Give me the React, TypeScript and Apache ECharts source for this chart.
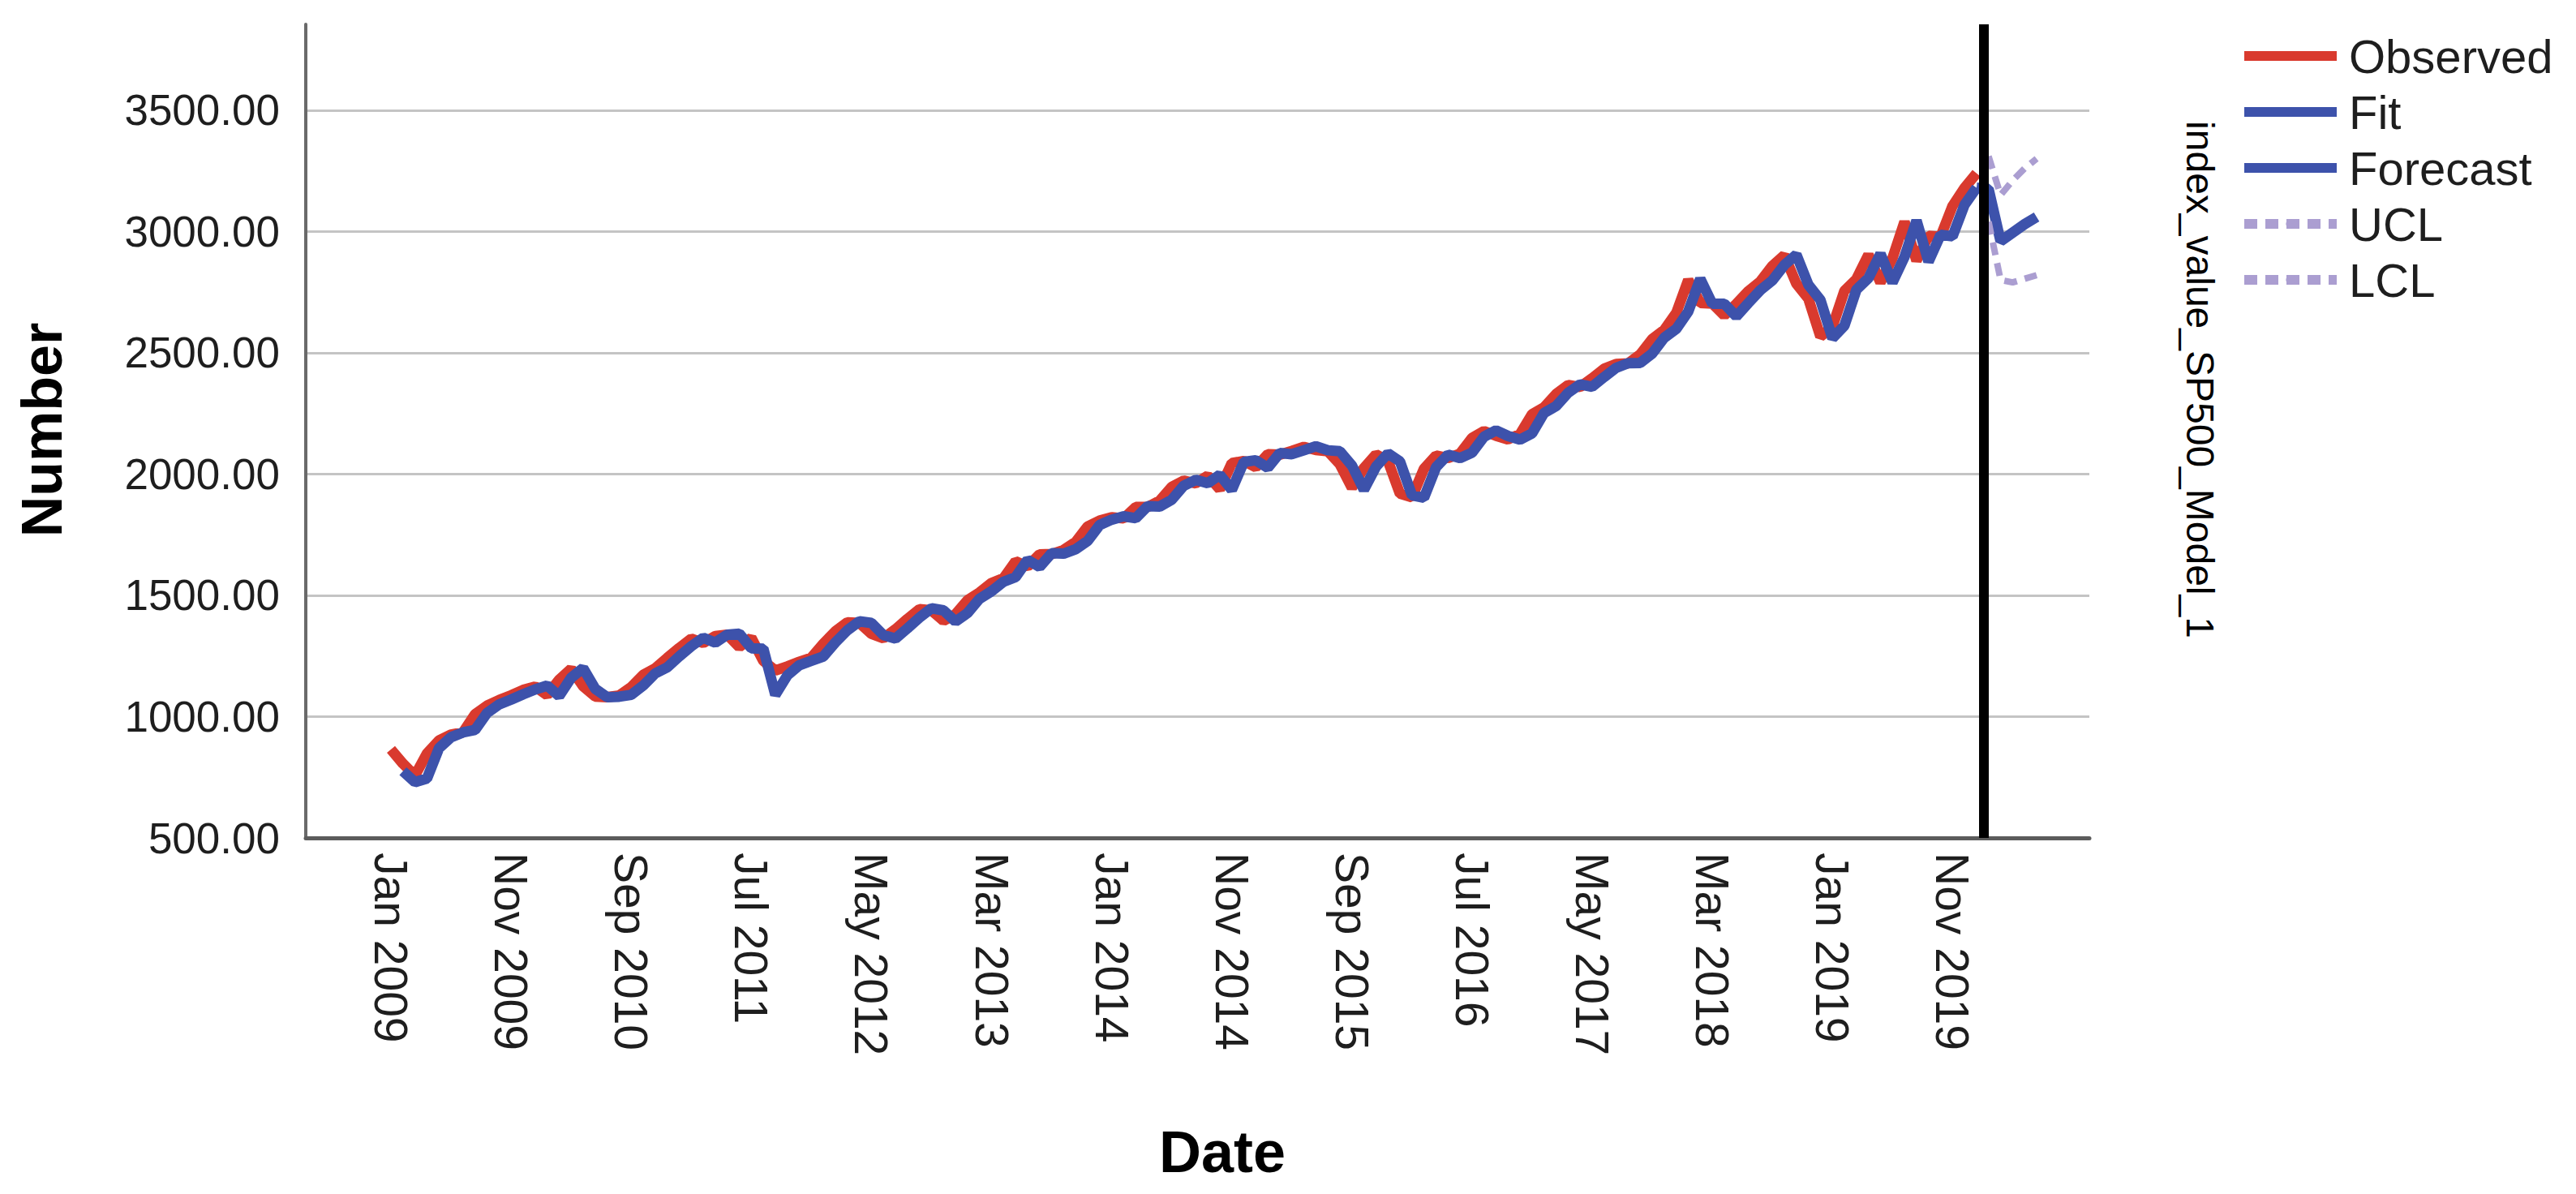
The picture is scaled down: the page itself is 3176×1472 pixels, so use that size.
import React, { useEffect, useRef } from "react";
import * as echarts from "echarts";

// ---- Data (monthly, index 0 = Jan 2009) ----
const tickPositions = [0, 10, 20, 30, 40, 50, 60, 70, 80, 90, 100, 110, 120, 130];
const tickLabels = [
  "Jan 2009", "Nov 2009", "Sep 2010", "Jul 2011", "May 2012", "Mar 2013", "Jan 2014",
  "Nov 2014", "Sep 2015", "Jul 2016", "May 2017", "Mar 2018", "Jan 2019", "Nov 2019",
];

const observedStart = 0;
const observedValues = [
  // 2009
  865, 806, 757, 848, 902, 926, 935, 1010, 1045, 1068, 1088, 1110,
  // 2010
  1124, 1089, 1152, 1197, 1125, 1083, 1080, 1087, 1122, 1172, 1199, 1242,
  // 2011
  1283, 1321, 1304, 1332, 1338, 1287, 1325, 1230, 1190, 1207, 1226, 1243,
  // 2012
  1301, 1352, 1389, 1386, 1341, 1323, 1360, 1403, 1443, 1438, 1395, 1422,
  // 2013
  1480, 1512, 1551, 1571, 1640, 1619, 1669, 1670, 1687, 1720, 1784, 1808,
  // 2014
  1822, 1817, 1864, 1864, 1890, 1947, 1973, 1962, 1993, 1937, 2045, 2054,
  // 2015
  2028, 2082, 2080, 2095, 2112, 2099, 2094, 2040, 1944, 2025, 2081, 2054,
  // 2016
  1919, 1904, 2022, 2076, 2066, 2084, 2149, 2177, 2158, 2143, 2165, 2247,
  // 2017
  2275, 2330, 2367, 2359, 2395, 2434, 2454, 2456, 2493, 2557, 2594, 2664,
  // 2018
  2800, 2705, 2703, 2654, 2701, 2754, 2794, 2858, 2902, 2785, 2723, 2567,
  // 2019
  2607, 2755, 2804, 2904, 2790, 2890, 3040, 2880, 2982, 2978, 3105, 3180,
  // 2020
  3240,
];

const fitStart = 1;
const fitValues = [
  775, 730, 745, 870, 915, 935, 945, 1015, 1050, 1070, 1092,
  1112, 1128, 1085, 1160, 1200, 1115, 1080, 1082, 1090, 1128, 1178, 1203,
  1248, 1290, 1325, 1305, 1338, 1342, 1282, 1280, 1090, 1170, 1212, 1230,
  1248, 1306, 1356, 1393, 1386, 1336, 1322, 1364, 1408, 1447, 1438, 1392,
  1427, 1486, 1517, 1556, 1575, 1646, 1617, 1674, 1672, 1690, 1724, 1790,
  1812, 1826, 1818, 1868, 1866, 1894, 1952, 1976, 1962, 1997, 1935, 2050,
  2057, 2026, 2087, 2082, 2098, 2115, 2098, 2094, 2035, 1935, 2030, 2085,
  2052, 1912, 1902, 2028, 2080, 2066, 2088, 2154, 2180, 2157, 2142, 2168,
  2252, 2280, 2335, 2370, 2360, 2400, 2438, 2457, 2458, 2497, 2562, 2598,
  2670, 2805, 2702, 2702, 2650, 2705, 2758, 2798, 2862, 2905, 2780, 2718,
  2560, 2612, 2760, 2808, 2908, 2790, 2895, 3045, 2876, 2986, 2980, 3110,
  3180,
];

const forecastStart = 132;
const forecastValues = [3180, 3175, 2960, 2995, 3030, 3060];

const boundsStart = 133;
const uclValues = [3310, 3150, 3210, 3260, 3300];
const lclValues = [3040, 2800, 2790, 2805, 2820];

const forecastOrigin = 132.6;

const yMin = 500;
const yMax = 3854;
const yStep = 500;
const xMin = -7.09;
const xMax = 141.39;

const FONT = "'Liberation Sans', Arial, Helvetica, sans-serif";
const RED = "#d93a2e";
const BLUE = "#3d52ab";
const LILAC = "#ab9ed1";

const toPairs = (start: number, vals: number[]) => vals.map((v, i) => [start + i, v]);

export default function App() {
  const ref = useRef<HTMLDivElement>(null);

  useEffect(() => {
    document.body.style.margin = "0";
    if (!ref.current) return;
    const chart = echarts.init(ref.current, undefined, { renderer: "svg" });

    const lineBase = {
      type: "line",
      symbol: "none",
      silent: true,
      emphasis: { disabled: true },
      smooth: false,
    };

    chart.setOption({
      animation: false,
      backgroundColor: "#ffffff",
      grid: { left: 377, right: 600, top: 30, bottom: 439, containLabel: false },
      xAxis: {
        type: "value",
        min: xMin,
        max: xMax,
        axisLine: { show: true, onZero: false, lineStyle: { color: "#5c5c5c", width: 5 } },
        axisTick: { show: false },
        splitLine: { show: false },
        axisLabel: {
          customValues: tickPositions,
          rotate: -90,
          margin: 18,
          fontSize: 57,
          fontFamily: FONT,
          color: "#1e1e1e",
          formatter: (v: number) => {
            const k = tickPositions.indexOf(Math.round(v));
            return k >= 0 ? tickLabels[k] : "";
          },
        },
      },
      yAxis: {
        type: "value",
        min: yMin,
        max: yMax,
        interval: yStep,
        axisLine: { show: true, onZero: false, lineStyle: { color: "#6a6a6a", width: 4 } },
        axisTick: { show: false },
        splitLine: {
          show: true,
          showMinLine: false,
          showMaxLine: false,
          lineStyle: { color: "#c4c4c4", width: 3 },
        },
        axisLabel: {
          showMaxLabel: false,
          margin: 32,
          fontSize: 53,
          fontFamily: FONT,
          color: "#1e1e1e",
          formatter: (v: number) => v.toFixed(2),
        },
      },
      legend: {
        orient: "vertical",
        left: 2761,
        top: 40,
        padding: 0,
        itemWidth: 114,
        itemHeight: 14,
        itemGap: 11,
        selectedMode: false,
        lineStyle: { width: 12 },
        textStyle: { fontSize: 58, fontFamily: FONT, color: "#1e1e1e", padding: [0, 0, 0, 10] },
        data: ["Observed", "Fit", "Forecast", "UCL", "LCL"],
      },
      series: [
        {
          ...lineBase,
          name: "Observed",
          data: toPairs(observedStart, observedValues),
          lineStyle: { color: RED, width: 13 },
          itemStyle: { color: RED },
          z: 2,
        },
        {
          ...lineBase,
          name: "Fit",
          data: toPairs(fitStart, fitValues),
          lineStyle: { color: BLUE, width: 13 },
          itemStyle: { color: BLUE },
          z: 3,
        },
        {
          ...lineBase,
          name: "Forecast",
          data: toPairs(forecastStart, forecastValues),
          lineStyle: { color: BLUE, width: 13 },
          itemStyle: { color: BLUE },
          z: 3,
        },
        {
          ...lineBase,
          name: "UCL",
          data: toPairs(boundsStart, uclValues),
          lineStyle: { color: LILAC, width: 8, type: [16, 10] },
          itemStyle: { color: LILAC },
          z: 2,
        },
        {
          ...lineBase,
          name: "LCL",
          data: toPairs(boundsStart, lclValues),
          lineStyle: { color: LILAC, width: 8, type: [16, 10] },
          itemStyle: { color: LILAC },
          z: 4,
          markLine: {
            silent: true,
            symbol: ["none", "none"],
            label: { show: false },
            lineStyle: { color: "#000000", width: 12, type: "solid" },
            data: [{ xAxis: forecastOrigin }],
          },
        },
      ],
      graphic: [
        {
          type: "text",
          x: 52,
          y: 530,
          rotation: Math.PI / 2,
          style: {
            text: "Number",
            fontSize: 70,
            fontWeight: "bold",
            fontFamily: FONT,
            fill: "#000000",
            align: "center",
            verticalAlign: "middle",
          },
        },
        {
          type: "text",
          x: 1507,
          y: 1420,
          style: {
            text: "Date",
            fontSize: 72,
            fontWeight: "bold",
            fontFamily: FONT,
            fill: "#000000",
            align: "center",
            verticalAlign: "middle",
          },
        },
        {
          type: "text",
          x: 2712,
          y: 468,
          rotation: -Math.PI / 2,
          style: {
            text: "index_value_SP500_Model_1",
            fontSize: 48,
            fontFamily: FONT,
            fill: "#000000",
            align: "center",
            verticalAlign: "middle",
          },
        },
      ],
    });

    return () => chart.dispose();
  }, []);

  return <div ref={ref} style={{ width: 3176, height: 1472 }} />;
}
